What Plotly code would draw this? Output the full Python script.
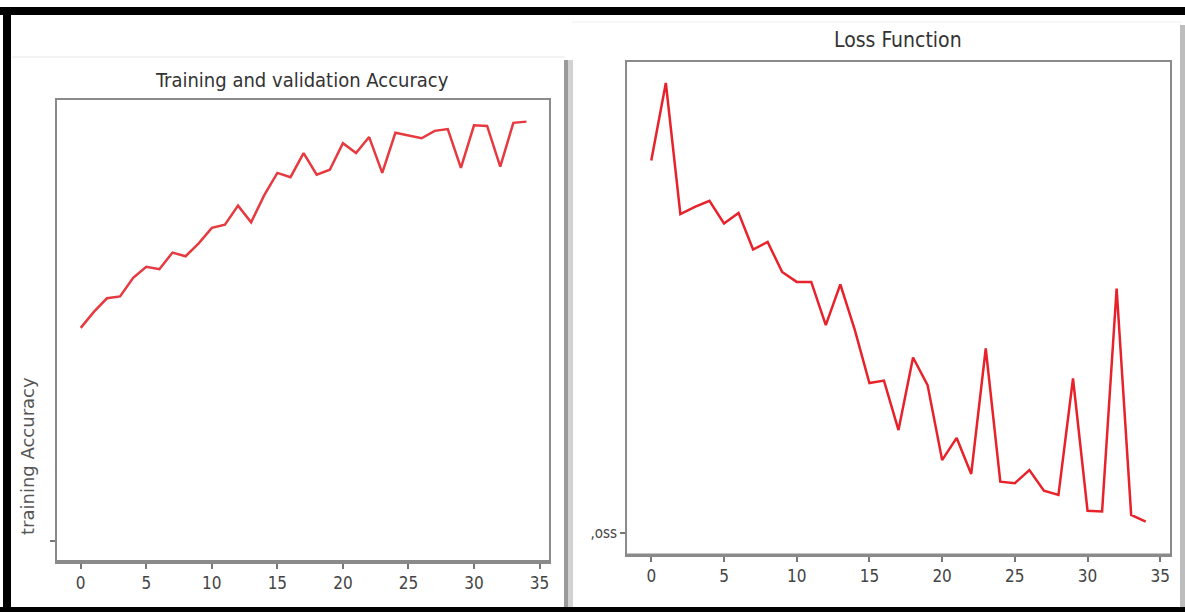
import plotly.graph_objects as go

W, H = 1185, 612

epochs = list(range(35))

train_accuracy = [0.645, 0.671, 0.693, 0.696, 0.726, 0.744, 0.740, 0.767, 0.761, 0.782,
                  0.807, 0.812, 0.843, 0.816, 0.860, 0.896, 0.889, 0.928, 0.893, 0.901,
                  0.944, 0.928, 0.954, 0.896, 0.961, 0.957, 0.952, 0.964, 0.967, 0.904,
                  0.973, 0.972, 0.906, 0.977, 0.979]

loss_values = [1.342, 1.600, 1.163, 1.187, 1.207, 1.132, 1.167, 1.045, 1.070, 0.970,
               0.937, 0.937, 0.793, 0.929, 0.776, 0.600, 0.608, 0.443, 0.685, 0.593,
               0.343, 0.417, 0.297, 0.715, 0.271, 0.266, 0.310, 0.241, 0.227, 0.615,
               0.174, 0.172, 0.915, 0.160, 0.138]

x_ticks = [0, 5, 10, 15, 20, 25, 30, 35]
x_tick_text = ["0", "5", "10", "15", "20", "25", "30", "35"]
acc_ytick = [0.30]
acc_ytick_text = [""]
loss_ytick = [0.10]
loss_ytick_text = [",oss"]

NARROW = "Liberation Sans Narrow, DejaVu Sans Condensed, Arial Narrow, DejaVu Sans, sans-serif"


def px(x):
    return x / W


def py(y):
    return 1 - y / H


fig = go.Figure()
fig.add_trace(go.Scatter(x=epochs, y=train_accuracy, mode="lines",
                         line=dict(color="#e63a40", width=2.5),
                         xaxis="x", yaxis="y", showlegend=False))
fig.add_trace(go.Scatter(x=epochs, y=loss_values, mode="lines",
                         line=dict(color="#e8222a", width=2.5),
                         xaxis="x2", yaxis="y2", showlegend=False))

axis_common = dict(showgrid=False, zeroline=False, showline=True, mirror=True,
                   linecolor="#8a8a8a", linewidth=2, ticks="outside", ticklen=5,
                   tickcolor="#777", tickwidth=1.5,
                   tickfont=dict(family=NARROW, size=17, color="#444"))

fig.update_layout(
    width=W, height=H,
    margin=dict(l=0, r=0, t=0, b=0),
    paper_bgcolor="white", plot_bgcolor="white",
    xaxis=dict(domain=[px(57), px(549)], range=[-1.81, 35.72],
               tickvals=x_ticks, ticktext=x_tick_text, anchor="y", **axis_common),
    yaxis=dict(domain=[py(562), py(100)], range=[0.266, 1.014],
               tickvals=acc_ytick, ticktext=acc_ytick_text, anchor="x", **axis_common),
    xaxis2=dict(domain=[px(627), px(1170)], range=[-1.67, 35.67],
                tickvals=x_ticks, ticktext=x_tick_text, anchor="y2", **axis_common),
    yaxis2=dict(domain=[py(555), py(62)], range=[0.0267, 1.670],
                tickvals=loss_ytick, ticktext=loss_ytick_text, anchor="x2",
                **{**axis_common, "tickfont": dict(family=NARROW, size=15, color="#444")}),
)

annotations = [
    dict(text="Training and validation Accuracy", x=px(302), y=py(80),
         font=dict(family=NARROW, size=20, color="#333")),
    dict(text="Loss Function", x=px(898), y=py(40),
         font=dict(family=NARROW, size=21, color="#333")),
    dict(text="training Accuracy", x=px(27), y=py(456), textangle=-90,
         font=dict(family="DejaVu Sans", size=18, color="#555")),
]
for a in annotations:
    fig.add_annotation(xref="paper", yref="paper", showarrow=False,
                       xanchor="center", yanchor="middle", **a)

shapes = [
    # thick bottom spines
    dict(type="line", x0=px(57), x1=px(549), y0=py(562), y1=py(562),
         line=dict(color="#8a8a8a", width=4)),
    dict(type="line", x0=px(627), x1=px(1170), y0=py(555), y1=py(555),
         line=dict(color="#8a8a8a", width=3)),
    # faint panel edges
    dict(type="line", x0=px(12), x1=px(565), y0=py(57), y1=py(57),
         line=dict(color="#e6e6e6", width=1)),
    dict(type="line", x0=px(572), x1=px(1182), y0=py(22), y1=py(22),
         line=dict(color="#eeeeee", width=1)),
    # separator between the two panels
    dict(type="rect", x0=px(564), x1=px(568), y0=py(607), y1=py(60),
         fillcolor="#9a9a9a", line=dict(width=0)),
    dict(type="rect", x0=px(568), x1=px(573), y0=py(607), y1=py(60),
         fillcolor="#d2d2d2", line=dict(width=0)),
    # right edge grey line
    dict(type="rect", x0=px(1180), x1=px(1185), y0=py(612), y1=py(25),
         fillcolor="#bdbdbd", line=dict(width=0)),
    # black frame
    dict(type="rect", x0=px(0), x1=px(1185), y0=py(15), y1=py(7),
         fillcolor="black", line=dict(width=0)),
    dict(type="rect", x0=px(3), x1=px(11), y0=py(612), y1=py(7),
         fillcolor="black", line=dict(width=0)),
    dict(type="rect", x0=px(0), x1=px(1185), y0=py(612), y1=py(607),
         fillcolor="black", line=dict(width=0)),
]
for s in shapes:
    fig.add_shape(xref="paper", yref="paper", layer="above", **s)

fig.write_html("out.html",
               config={"displayModeBar": False},
               post_script="document.body.style.margin='0';"
                           "document.body.style.overflow='hidden';")
